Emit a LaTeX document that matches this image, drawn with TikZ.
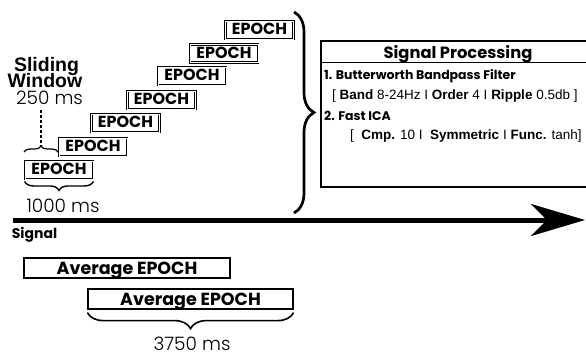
\documentclass[tikz,border=0pt]{standalone}
\usepackage{fontspec}
\setmainfont{Poppins}
\newfontfamily\lightf{Poppins Light}
\newfontfamily\arialf{Liberation Sans}
\usetikzlibrary{arrows.meta,decorations.pathreplacing,calc}
\begin{document}
\begin{tikzpicture}[x=1pt,y=-1pt,
  epoch/.style={draw, line width=0.9pt, double, double distance=0.8pt, minimum width=68pt, minimum height=18pt, inner sep=0pt, text height=0.7em+2pt, text depth=0pt, font=\fontsize{16}{16}\selectfont\bfseries},
  avg/.style={draw, line width=1.2pt, minimum width=206pt, minimum height=20pt, inner sep=0pt, text height=0.7em+5pt, text depth=0pt, font=\fontsize{17.5}{17.5}\selectfont\bfseries},
  brc/.style={decorate, decoration={brace, amplitude=#1}},
  lbl/.style={inner sep=0pt, anchor=base, font=\fontsize{18.5}{18.5}\selectfont\lightf},
  hd/.style={inner sep=0pt, anchor=base, font=\fontsize{19.5}{19.5}\selectfont\arialf\bfseries},
  itm/.style={inner sep=0pt, anchor=west, font=\fontsize{12.5}{12.5}\selectfont\bfseries},
  prm/.style={inner sep=0pt, anchor=west, font=\fontsize{13.5}{13.5}\selectfont\arialf}
]
\useasboundingbox (0,0) rectangle (586,356);
% epochs
\node[epoch] (e1) at (59,170) {EPOCH};
\node[epoch] (e2) at (93,147) {EPOCH};
\node[epoch] (e3) at (125.5,123) {EPOCH};
\node[epoch] (e4) at (161.5,100) {EPOCH};
\node[epoch] (e5) at (192,76) {EPOCH};
\node[epoch] (e6) at (224,53.5) {EPOCH};
\node[epoch] (e7) at (259.5,30) {EPOCH};
% sliding window
\node[hd] (sl) at (46.5,71.7) {Sliding};
\node[hd] (wi) at (45,87) {Window};
\node[lbl] (w250) at (49.5,104.5) {250 ms};
\coordinate (sbt) at (41,145);
\draw[line width=1.2pt, dash pattern=on 3pt off 2pt] ($(w250.south -| sbt)+(0,5)$) -- (sbt);
\draw[brc=6pt, line width=1.2pt] (24,152) -- (58,152);
% 1000 ms
\draw[brc=9pt, line width=1.4pt] ($(e1.south east)+(0,2)$) -- ($(e1.south west)+(0,2)$);
\node[lbl] (w1000) at (63,212) {1000 ms};
% big brace
\draw[brc=20pt, line width=2.7pt] (294,12) -- (294,213);
% signal processing box (its right side runs past the picture's edge)
\node[draw, line width=1.4pt, minimum width=272pt, minimum height=146pt, inner sep=0pt] (sp) at (457,114) {};
\draw[line width=1.4pt] ($(sp.north west)+(0,22)$) -- ($(sp.north east)+(0,22)$);
\node[inner sep=0pt, anchor=base, font=\fontsize{16.3}{16.3}\selectfont\bfseries] (spt) at (458,58) {Signal Processing};
\node[itm] (l1) at (324,76) {1. Butterworth Bandpass Filter};
\node[prm] (l2) at (332,96) {[ \textbf{Band} 8-24Hz I \textbf{Order} 4 I \textbf{Ripple} 0.5db ]};
\node[itm] (l3) at (324,116) {2. Fast ICA};
\node[prm] (l4) at (350,136.5) {[ \ \textbf{Cmp.} 10 I \ \textbf{Symmetric} I \textbf{Func.} tanh]};
% signal arrow
\coordinate (s0) at (13,220);
\coordinate (s1) at (585,220);
\draw[line width=5pt, -{Stealth[length=54pt, width=32pt, inset=16pt]}] (s0) -- (s1);
\node[inner sep=0pt, anchor=base, font=\fontsize{14}{14}\selectfont\bfseries] (sig) at (34.5,238) {Signal};
% averages
\node[avg] (a1) at (127,268) {Average EPOCH};
\node[avg, minimum width=205pt] (a2) at (190.5,299) {Average EPOCH};
\draw[brc=16pt, line width=1.6pt] ($(a2.south east)+(0,3)$) -- ($(a2.south west)+(0,3)$);
\node[lbl] (w3750) at (192,350) {3750 ms};
\end{tikzpicture}
\end{document}
